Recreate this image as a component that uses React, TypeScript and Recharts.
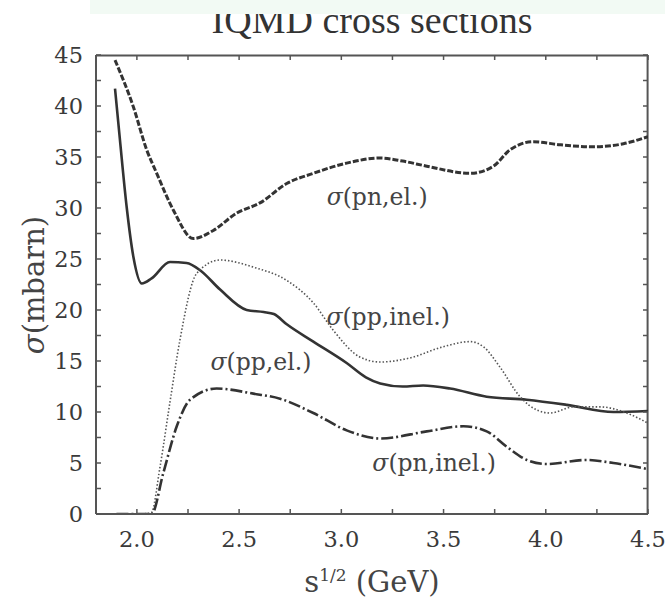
import {
  LineChart,
  Line,
  XAxis,
  YAxis,
  ReferenceDot,
  ReferenceLine,
} from "recharts";

// sqrt(s) in GeV vs cross section in mbarn, read curve by curve
const ppElX = [1.893, 1.917, 1.95, 1.983, 2.024, 2.072, 2.162, 2.243, 2.309, 2.407, 2.537, 2.62, 2.67, 2.733, 2.863, 3.026, 3.12, 3.19, 3.3, 3.4, 3.532, 3.711, 3.907, 4.103, 4.331, 4.5];
const ppElY = [41.7, 36.7, 30.1, 25.2, 22.6, 23.1, 24.7, 24.6, 23.9, 22.0, 20.0, 19.8, 19.6, 18.6, 16.9, 14.8, 13.4, 12.8, 12.5, 12.6, 12.3, 11.5, 11.2, 10.7, 10.0, 10.1];

const pnElX = [1.893, 1.983, 2.048, 2.097, 2.178, 2.276, 2.374, 2.488, 2.602, 2.733, 2.863, 3.026, 3.19, 3.3, 3.418, 3.63, 3.744, 3.825, 3.939, 4.07, 4.233, 4.38, 4.5];
const pnElY = [44.5, 39.9, 35.7, 33.4, 29.8, 27.0, 27.8, 29.5, 30.5, 32.4, 33.4, 34.4, 34.9, 34.6, 34.1, 33.4, 34.1, 35.7, 36.5, 36.2, 36.0, 36.3, 37.0];

const ppInelX = [1.9, 2.0, 2.07, 2.113, 2.162, 2.21, 2.293, 2.407, 2.57, 2.733, 2.863, 2.961, 3.09, 3.19, 3.336, 3.499, 3.63, 3.695, 3.776, 3.874, 3.956, 4.021, 4.135, 4.266, 4.396, 4.5];
const ppInelY = [0, 0, 0.1, 4.6, 11.0, 17.0, 23.6, 24.9, 24.2, 22.9, 20.7, 18.0, 15.4, 14.9, 15.3, 16.4, 16.9, 16.4, 14.4, 11.5, 10.2, 9.9, 10.5, 10.5, 9.9, 8.9];

const pnInelX = [1.9, 2.0, 2.072, 2.129, 2.195, 2.26, 2.39, 2.57, 2.7, 2.863, 3.026, 3.19, 3.418, 3.597, 3.711, 3.809, 3.907, 4.005, 4.2, 4.331, 4.5];
const pnInelY = [0, 0, 0, 4.0, 8.6, 11.2, 12.3, 11.8, 11.3, 9.9, 8.2, 7.4, 8.1, 8.6, 8.1, 6.6, 5.3, 4.9, 5.3, 5.0, 4.4];

const xTicks = [2.0, 2.25, 2.5, 2.75, 3.0, 3.25, 3.5, 3.75, 4.0, 4.25, 4.5];
const xLabels = ["2.0", "", "2.5", "", "3.0", "", "3.5", "", "4.0", "", "4.5"];
const yTicks = [0, 2.5, 5, 7.5, 10, 12.5, 15, 17.5, 20, 22.5, 25, 27.5, 30, 32.5, 35, 37.5, 40, 42.5, 45];

// curve labels: [process, x, y]
const curveNotes: [string, number, number][] = [
  ["(pn,el.)", 3.175, 31.1],
  ["(pp,inel.)", 3.229, 19.3],
  ["(pp,el.)", 2.607, 14.9],
  ["(pn,inel.)", 3.454, 5.0],
];

const toPoints = (xs: number[], ys: number[]) => xs.map((x, i) => ({ x, y: ys[i] }));

const W = 665;
const H = 599;
const margin = { top: 55, right: 17, bottom: 45, left: 36 };
const Y_AXIS_W = 60;
const X_AXIS_H = 40;
const PLOT_LEFT = margin.left + Y_AXIS_W;
const PLOT_RIGHT = W - margin.right;
const PLOT_TOP = margin.top;
const PLOT_BOTTOM = H - margin.bottom - X_AXIS_H;
const TICK_LEN = 5;

const ink = "#333";
const axisColor = "#555";
const labelColor = "#3a3a3a";
const serif = "'DejaVu Serif', serif";

// ticks point inwards on all four sides of the frame
const BottomTick = (p: any) => {
  const v = p.payload.value;
  const label = xLabels[xTicks.indexOf(v)] ?? "";
  return (
    <g>
      <line x1={p.x} x2={p.x} y1={PLOT_BOTTOM} y2={PLOT_BOTTOM - TICK_LEN} stroke={axisColor} strokeWidth={1.5} />
      <line x1={p.x} x2={p.x} y1={PLOT_TOP} y2={PLOT_TOP + TICK_LEN} stroke={axisColor} strokeWidth={1.5} />
      {label && (
        <text x={p.x} y={p.y} textAnchor="middle" dominantBaseline="central" fontFamily={serif} fontSize={22.5} fill={labelColor}>
          {label}
        </text>
      )}
    </g>
  );
};

const LeftTick = (p: any) => {
  const v = p.payload.value;
  return (
    <g>
      <line x1={PLOT_LEFT} x2={PLOT_LEFT + TICK_LEN} y1={p.y} y2={p.y} stroke={axisColor} strokeWidth={1.5} />
      <line x1={PLOT_RIGHT} x2={PLOT_RIGHT - TICK_LEN} y1={p.y} y2={p.y} stroke={axisColor} strokeWidth={1.5} />
      {v % 5 === 0 && (
        <text x={p.x} y={p.y} textAnchor="end" dominantBaseline="central" fontFamily={serif} fontSize={22.5} fill={labelColor}>
          {v}
        </text>
      )}
    </g>
  );
};

const NoteText = (text: string) => (p: any) => (
  <text
    x={p.cx}
    y={p.cy}
    textAnchor="middle"
    dominantBaseline="central"
    fontFamily={serif}
    fontSize={23.5}
    fill="#444"
  >
    <tspan fontStyle="italic">σ</tspan>
    {text}
  </text>
);

export default function App() {
  return (
    <div
      style={{
        position: "absolute",
        left: 0,
        top: 0,
        width: W,
        height: H,
        background: "#fff",
        overflow: "hidden",
      }}
    >
      <div
        style={{
          position: "absolute",
          left: (PLOT_LEFT + PLOT_RIGHT) / 2,
          top: 0,
          transform: "translateX(-50%)",
          fontFamily: "'Liberation Serif', serif",
          fontSize: 38,
          lineHeight: "40px",
          color: "#333",
          whiteSpace: "nowrap",
        }}
      >
        IQMD cross sections
      </div>
      <div
        style={{
          position: "absolute",
          left: 90,
          top: 0,
          width: W - 90,
          height: 14,
          background: "#f2faf4",
        }}
      />
      <div
        style={{
          position: "absolute",
          left: 34,
          top: 285,
          transform: "translate(-50%, -50%) rotate(-90deg)",
          fontFamily: serif,
          fontSize: 29,
          color: "#444",
          whiteSpace: "nowrap",
        }}
      >
        <i>σ</i>(mbarn)
      </div>
      <div
        style={{
          position: "absolute",
          left: (PLOT_LEFT + PLOT_RIGHT) / 2,
          top: 578,
          transform: "translate(-50%, -50%)",
          fontFamily: serif,
          fontSize: 29,
          lineHeight: "34px",
          color: "#444",
          whiteSpace: "nowrap",
        }}
      >
        s<sup style={{ fontSize: 17, verticalAlign: "11px" }}>1/2</sup> (GeV)
      </div>
      <div style={{ position: "absolute", left: 0, top: 0 }}>
        <LineChart width={W} height={H} margin={margin}>
          <XAxis
            xAxisId="b"
            type="number"
            dataKey="x"
            domain={[1.8, 4.5]}
            ticks={xTicks}
            allowDataOverflow
            height={X_AXIS_H}
            tickLine={false}
            tickSize={0}
            tickMargin={25}
            tick={BottomTick}
            stroke={axisColor}
            strokeWidth={2}
            interval={0}
          />
          <YAxis
            yAxisId="l"
            type="number"
            domain={[0, 45]}
            ticks={yTicks}
            allowDataOverflow
            width={Y_AXIS_W}
            tickLine={false}
            tickSize={0}
            tickMargin={13}
            tick={LeftTick}
            stroke={axisColor}
            strokeWidth={2}
            interval={0}
          />
          {/* top and right edges of the box */}
          <ReferenceLine xAxisId="b" yAxisId="l" y={44.95} stroke={axisColor} strokeWidth={2} />
          <ReferenceLine xAxisId="b" yAxisId="l" x={4.498} stroke={axisColor} strokeWidth={2} />
          <Line
            xAxisId="b"
            yAxisId="l"
            data={toPoints(pnElX, pnElY)}
            dataKey="y"
            type="monotone"
            stroke={ink}
            strokeWidth={3}
            strokeDasharray="6 2"
            dot={false}
            isAnimationActive={false}
          />
          <Line
            xAxisId="b"
            yAxisId="l"
            data={toPoints(ppElX, ppElY)}
            dataKey="y"
            type="monotone"
            stroke={ink}
            strokeWidth={2.6}
            dot={false}
            isAnimationActive={false}
          />
          <Line
            xAxisId="b"
            yAxisId="l"
            data={toPoints(ppInelX, ppInelY)}
            dataKey="y"
            type="monotone"
            stroke="#555"
            strokeWidth={1.6}
            strokeDasharray="1.5 2"
            dot={false}
            isAnimationActive={false}
          />
          <Line
            xAxisId="b"
            yAxisId="l"
            data={toPoints(pnInelX, pnInelY)}
            dataKey="y"
            type="monotone"
            stroke={ink}
            strokeWidth={2.6}
            strokeDasharray="12 3 2 3"
            dot={false}
            isAnimationActive={false}
          />
          {curveNotes.map(([text, x, y]) => (
            <ReferenceDot
              key={text}
              xAxisId="b"
              yAxisId="l"
              x={x}
              y={y}
              r={0}
              shape={NoteText(text)}
            />
          ))}
        </LineChart>
      </div>
    </div>
  );
}
